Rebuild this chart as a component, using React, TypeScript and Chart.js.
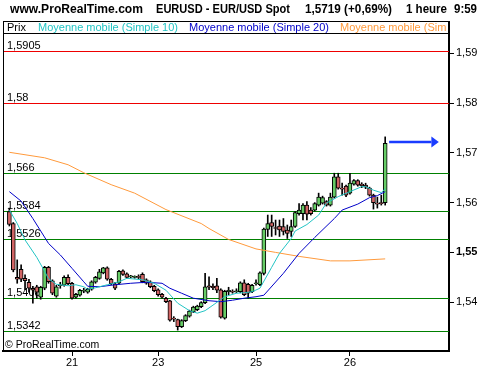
import React, { useEffect, useRef } from "react";
import { Chart, registerables } from "chart.js";

Chart.register(...registerables);

const FONT = '"Liberation Sans", Arial, sans-serif';

// Hourly candles (index 0 = first visible hour)
const openP = [
  1.5582, 1.5558, 1.5450, 1.5466, 1.5448, 1.5440, 1.5428, 1.5431, 1.5410, 1.5428,
  1.5470, 1.5443, 1.5412, 1.5433, 1.5434, 1.5450, 1.5438, 1.5410, 1.5414, 1.5422,
  1.5420, 1.5426, 1.5440, 1.5448, 1.5459, 1.5469, 1.5446, 1.5437, 1.5438, 1.5463,
  1.5457, 1.5451, 1.5450, 1.5452, 1.5456, 1.5445, 1.5441, 1.5432, 1.5425, 1.5416,
  1.5408, 1.5403, 1.5368, 1.5365, 1.5351, 1.5363, 1.5372, 1.5381, 1.5385, 1.5391,
  1.5399, 1.5433, 1.5432, 1.5433, 1.5425, 1.5368, 1.5421, 1.5422, 1.5421, 1.5421,
  1.5439, 1.5436, 1.5421, 1.5437, 1.5435, 1.5458, 1.5546, 1.5560, 1.5550, 1.5553,
  1.5552, 1.5545, 1.5542, 1.5552, 1.5578, 1.5578, 1.5595, 1.5585, 1.5585, 1.5595,
  1.5599, 1.5602, 1.5595, 1.5611, 1.5652, 1.5629, 1.5633, 1.5619, 1.5637, 1.5644,
  1.5637, 1.5635, 1.5629, 1.5615, 1.5598, 1.5600, 1.5600,
];
const highP = [
  1.5589, 1.5560, 1.5485, 1.5475, 1.5455, 1.5446, 1.5432, 1.5434, 1.5432, 1.5472,
  1.5472, 1.5445, 1.5434, 1.5440, 1.5453, 1.5455, 1.5440, 1.5418, 1.5426, 1.5428,
  1.5428, 1.5443, 1.5452, 1.5466, 1.5470, 1.5471, 1.5448, 1.5440, 1.5464, 1.5465,
  1.5459, 1.5454, 1.5453, 1.5455, 1.5459, 1.5447, 1.5443, 1.5434, 1.5427, 1.5418,
  1.5410, 1.5404, 1.5371, 1.5366, 1.5365, 1.5375, 1.5384, 1.5392, 1.5394, 1.5401,
  1.5458, 1.5451, 1.5437, 1.5448, 1.5427, 1.5424, 1.5430, 1.5425, 1.5427, 1.5441,
  1.5445, 1.5438, 1.5436, 1.5445, 1.5461, 1.5549, 1.5575, 1.5575, 1.5565, 1.5565,
  1.5568, 1.5555, 1.5565, 1.5582, 1.5598, 1.5598, 1.5602, 1.5590, 1.5600, 1.5619,
  1.5613, 1.5604, 1.5619, 1.5659, 1.5659, 1.5639, 1.5635, 1.5659, 1.5646, 1.5646,
  1.5640, 1.5639, 1.5631, 1.5617, 1.5611, 1.5615, 1.5732,
];
const lowP = [
  1.5553, 1.5461, 1.5438, 1.5441, 1.5425, 1.5420, 1.5398, 1.5408, 1.5406, 1.5425,
  1.5438, 1.5415, 1.5410, 1.5428, 1.5432, 1.5435, 1.5406, 1.5408, 1.5412, 1.5419,
  1.5418, 1.5424, 1.5438, 1.5446, 1.5457, 1.5444, 1.5435, 1.5425, 1.5436, 1.5454,
  1.5448, 1.5449, 1.5448, 1.5447, 1.5439, 1.5436, 1.5429, 1.5421, 1.5412, 1.5408,
  1.5399, 1.5362, 1.5361, 1.5344, 1.5349, 1.5361, 1.5370, 1.5379, 1.5383, 1.5389,
  1.5397, 1.5425, 1.5425, 1.5419, 1.5368, 1.5366, 1.5415, 1.5418, 1.5419, 1.5419,
  1.5413, 1.5408, 1.5419, 1.5434, 1.5433, 1.5455, 1.5532, 1.5532, 1.5535, 1.5532,
  1.5535, 1.5528, 1.5532, 1.5550, 1.5575, 1.5565, 1.5565, 1.5575, 1.5583, 1.5593,
  1.5597, 1.5593, 1.5593, 1.5609, 1.5627, 1.5615, 1.5612, 1.5617, 1.5635, 1.5633,
  1.5630, 1.5628, 1.5613, 1.5587, 1.5589, 1.5595, 1.5595,
];
const closeP = [
  1.5556, 1.5465, 1.5446, 1.5446, 1.5443, 1.5428, 1.5424, 1.5420, 1.5430, 1.5470,
  1.5441, 1.5418, 1.5431, 1.5435, 1.5450, 1.5437, 1.5408, 1.5416, 1.5424, 1.5424,
  1.5426, 1.5441, 1.5450, 1.5461, 1.5469, 1.5446, 1.5437, 1.5428, 1.5462, 1.5456,
  1.5450, 1.5452, 1.5452, 1.5450, 1.5441, 1.5438, 1.5431, 1.5423, 1.5415, 1.5410,
  1.5401, 1.5364, 1.5366, 1.5351, 1.5363, 1.5373, 1.5382, 1.5390, 1.5392, 1.5399,
  1.5431, 1.5430, 1.5429, 1.5424, 1.5370, 1.5422, 1.5424, 1.5420, 1.5423, 1.5439,
  1.5415, 1.5418, 1.5434, 1.5439, 1.5459, 1.5547, 1.5558, 1.5552, 1.5548, 1.5545,
  1.5542, 1.5538, 1.5552, 1.5580, 1.5585, 1.5595, 1.5577, 1.5578, 1.5598, 1.5611,
  1.5610, 1.5595, 1.5611, 1.5652, 1.5629, 1.5627, 1.5615, 1.5639, 1.5644, 1.5635,
  1.5634, 1.5631, 1.5615, 1.5600, 1.5597, 1.5598, 1.5719,
];

// Moving averages (candle index -> value)
const sma10Idx = [0, 2, 4, 7, 9, 10, 12, 15, 17, 19, 20, 22, 25, 28, 30, 34, 37, 40, 43, 46, 48, 50, 52, 55, 58, 60, 62, 64, 67, 69, 72, 73, 76, 79, 81, 84, 87, 90, 91, 93, 95, 96];
const sma10Val = [1.5585, 1.5558, 1.5525, 1.5490, 1.5462, 1.5447, 1.5436, 1.5433, 1.5435, 1.5431, 1.5426, 1.5429, 1.5435, 1.5441, 1.5448, 1.5445, 1.5438, 1.5424, 1.5398, 1.5383, 1.5378, 1.5383, 1.5394, 1.5411, 1.5418, 1.5419, 1.5421, 1.5428, 1.5470, 1.5498, 1.5528, 1.5543, 1.5556, 1.5575, 1.5599, 1.5612, 1.5622, 1.5632, 1.5632, 1.5625, 1.5620, 1.5628];
const sma20Idx = [0, 3, 6, 10, 13, 16, 19, 20, 23, 27, 31, 35, 39, 41, 44, 47, 51, 54, 57, 60, 63, 65, 70, 74, 78, 83, 85, 89, 92, 94, 96];
const sma20Val = [1.5622, 1.5603, 1.5568, 1.5518, 1.5495, 1.5468, 1.5441, 1.5432, 1.5431, 1.5435, 1.5438, 1.5440, 1.5438, 1.5428, 1.5418, 1.5408, 1.5403, 1.5401, 1.5404, 1.5408, 1.5411, 1.5414, 1.5458, 1.5498, 1.5530, 1.5568, 1.5585, 1.5597, 1.5610, 1.5614, 1.5622];
const smaLongIdx = [0, 9, 15, 19, 26, 32, 40, 49, 51, 56, 63, 68, 74, 82, 87, 96];
const smaLongVal = [1.5701, 1.5690, 1.5676, 1.5660, 1.5636, 1.5619, 1.5586, 1.5558, 1.5548, 1.5526, 1.5507, 1.5500, 1.5492, 1.5483, 1.5483, 1.5487];

// Axis ticks
const dayTickIdx = [16, 38, 63, 87];
const dayLabels = ["21", "23", "25", "26"];
const priceTicks = [1.54, 1.55, 1.56, 1.57, 1.58, 1.59];
const boldTick = 1.55;
const yMin = 1.5302;
const yMax = 1.59406;
const xMin = -1.63;
const xMax = 112.3;

// Horizontal price levels
const levelValues = [1.5905, 1.58, 1.566, 1.5584, 1.5526, 1.5408, 1.5342];
const levelLabels = ["1,5905", "1,58", "1,566", "1,5584", "1,5526", "1,5408", "1,5342"];
const levelColors = ["#ee0000", "#ee0000", "#008000", "#008000", "#008000", "#008000", "#008000"];

// Texts
const headerParts = ["www.ProRealTime.com", "EURUSD - EUR/USD Spot", "1,5719 (+0,69%)", "1 heure", "9:59"];
const headerX = [10, 156, 305, 406, 454];
const headerW = [133, 134, 87, 41, 23];
const legendLabels = ["Prix", "Moyenne mobile (Simple 10)", "Moyenne mobile (Simple 20)", "Moyenne mobile (Simple 100)"];
const legendColors = ["#000000", "#22c4c4", "#0000c8", "#ff9a3c"];
const legendX = [7, 38, 189, 340];
const copyright = "\u00a9 ProRealTime.com";

const UP = "#66cc66";
const DOWN = "#d06464";

export default function App() {
  const ref = useRef<HTMLCanvasElement>(null);

  useEffect(() => {
    document.body.style.margin = "0";
    const canvas = ref.current;
    if (!canvas) return;

    const overlay = {
      id: "overlay",
      beforeDatasetsDraw(chart: any) {
        const { ctx, chartArea: a, scales } = chart;
        const y = scales.y;
        ctx.save();
        ctx.beginPath();
        ctx.rect(a.left, a.top, a.right - a.left, a.bottom - a.top);
        ctx.clip();
        levelValues.forEach((v, k) => {
          const py = Math.round(y.getPixelForValue(v)) + 0.5;
          ctx.strokeStyle = levelColors[k];
          ctx.lineWidth = 1;
          ctx.beginPath();
          ctx.moveTo(a.left, py);
          ctx.lineTo(a.right, py);
          ctx.stroke();
          ctx.fillStyle = "#000";
          ctx.font = `11px ${FONT}`;
          ctx.textAlign = "left";
          ctx.textBaseline = "alphabetic";
          ctx.fillText(levelLabels[k], a.left + 4, py - 2.5);
        });
        ctx.restore();
      },
      afterDraw(chart: any) {
        const { ctx, chartArea: a, scales } = chart;
        const x = scales.x;
        const y = scales.y;
        ctx.save();
        // header, each part fitted to its measured width
        ctx.fillStyle = "#000";
        ctx.font = `bold 12px ${FONT}`;
        ctx.textAlign = "left";
        ctx.textBaseline = "alphabetic";
        headerParts.forEach((t, k) => {
          const w = ctx.measureText(t).width;
          ctx.save();
          ctx.translate(headerX[k], 13);
          ctx.scale(headerW[k] / w, 1);
          ctx.fillText(t, 0, 0);
          ctx.restore();
        });

        // legend box
        const boxTop = 21;
        ctx.fillStyle = "#fff";
        ctx.fillRect(a.left + 1, boxTop + 1, a.right - a.left - 2, a.top - boxTop - 1);
        ctx.strokeStyle = "#000";
        ctx.lineWidth = 1;
        ctx.beginPath();
        ctx.moveTo(a.left, boxTop + 0.5);
        ctx.lineTo(a.right, boxTop + 0.5);
        ctx.moveTo(a.left, a.top + 0.5);
        ctx.lineTo(a.right, a.top + 0.5);
        ctx.moveTo(a.left + 0.5, boxTop);
        ctx.lineTo(a.left + 0.5, a.bottom);
        ctx.stroke();
        ctx.fillStyle = "#000";
        ctx.fillRect(a.right - 1, boxTop, 2, a.top - boxTop + 1);

        ctx.save();
        ctx.beginPath();
        ctx.rect(a.left, boxTop, a.right - a.left - 2, a.top - boxTop);
        ctx.clip();
        ctx.font = `11px ${FONT}`;
        legendLabels.forEach((t, k) => {
          ctx.fillStyle = legendColors[k];
          ctx.fillText(t, legendX[k], 30.5);
        });
        ctx.restore();

        // copyright
        ctx.fillStyle = "#000";
        ctx.font = `10.5px ${FONT}`;
        ctx.fillText(copyright, a.left + 2, a.bottom - 3);

        // last price arrow
        const last = closeP.length - 1;
        const ay = Math.round(y.getPixelForValue(closeP[last])) - 1;
        const x0 = x.getPixelForValue(last + 1);
        const xh = x.getPixelForValue(last + 11.8);
        const xt = x.getPixelForValue(last + 13.7);
        ctx.strokeStyle = "#1a3cff";
        ctx.fillStyle = "#1a3cff";
        ctx.lineWidth = 2.5;
        ctx.beginPath();
        ctx.moveTo(x0, ay);
        ctx.lineTo(xh, ay);
        ctx.stroke();
        ctx.beginPath();
        ctx.moveTo(xh, ay - 5.5);
        ctx.lineTo(xt, ay);
        ctx.lineTo(xh, ay + 5.5);
        ctx.closePath();
        ctx.fill();
        ctx.restore();
      },
    };

    const wickData = lowP.map((l, i) => ({ x: i, y: [l, highP[i]] }));
    const bodyData = openP.map((o, i) => ({ x: i, y: [o, closeP[i]] }));
    const bodyColors = openP.map((o, i) => (closeP[i] >= o ? UP : DOWN));

    const chart = new Chart(canvas, {
      type: "bar",
      data: {
        datasets: [
          {
            type: "line",
            label: legendLabels[1],
            data: sma10Idx.map((xi, k) => ({ x: xi, y: sma10Val[k] })),
            borderColor: "#22c4c4",
            borderWidth: 1,
            pointRadius: 0,
            tension: 0,
            order: 0,
          } as any,
          {
            type: "line",
            label: legendLabels[2],
            data: sma20Idx.map((xi, k) => ({ x: xi, y: sma20Val[k] })),
            borderColor: "#0000c8",
            borderWidth: 1,
            pointRadius: 0,
            tension: 0,
            order: 0,
          } as any,
          {
            type: "line",
            label: legendLabels[3],
            data: smaLongIdx.map((xi, k) => ({ x: xi, y: smaLongVal[k] })),
            borderColor: "#ff9a3c",
            borderWidth: 1,
            pointRadius: 0,
            tension: 0,
            order: 0,
          } as any,
          {
            type: "bar",
            label: "body",
            data: bodyData,
            backgroundColor: bodyColors,
            borderColor: "#000",
            borderWidth: 1,
            borderSkipped: false,
            barThickness: 4,
            minBarLength: 1,
            grouped: false,
            order: 1,
          } as any,
          {
            type: "bar",
            label: legendLabels[0],
            data: wickData,
            backgroundColor: "#000",
            borderWidth: 0,
            barThickness: 1,
            grouped: false,
            order: 2,
          } as any,
        ],
      },
      options: {
        animation: false,
        responsive: false,
        devicePixelRatio: 1,
        layout: { padding: { left: 3, top: 33, right: 0, bottom: 0 } },
        plugins: { legend: { display: false }, tooltip: { enabled: false } },
        scales: {
          x: {
            type: "linear",
            min: xMin,
            max: xMax,
            offset: false,
            afterBuildTicks: (s: any) => {
              s.ticks = dayTickIdx.map((v) => ({ value: v }));
            },
            afterFit: (s: any) => {
              s.height = 19;
            },
            grid: { drawOnChartArea: false, offset: false, color: "#000", tickLength: 5 },
            border: { display: true, color: "#000", width: 2 },
            ticks: {
              autoSkip: false,
              maxRotation: 0,
              padding: 0,
              color: "#000",
              font: { family: FONT, size: 11 },
              callback: (v: any) => {
                const k = dayTickIdx.indexOf(Number(v));
                return k >= 0 ? dayLabels[k] : "";
              },
            },
          },
          y: {
            type: "linear",
            position: "right",
            min: yMin,
            max: yMax,
            afterBuildTicks: (s: any) => {
              s.ticks = priceTicks.map((v) => ({ value: v }));
            },
            afterFit: (s: any) => {
              s.width = 51;
            },
            grid: { drawOnChartArea: false, color: "#000", tickLength: 5 },
            border: { display: true, color: "#000", width: 2 },
            ticks: {
              padding: 2,
              color: "#000",
              font: (c: any) => ({
                family: FONT,
                size: 11,
                weight: c.tick && Math.abs(c.tick.value - boldTick) < 1e-9 ? "bold" : "normal",
              }),
              callback: (v: any) => Number(v).toFixed(2).replace(".", ","),
            },
          },
        },
      } as any,
      plugins: [overlay],
    });

    return () => chart.destroy();
  }, []);

  return (
    <div style={{ width: 500, height: 370, background: "#fff" }}>
      <canvas ref={ref} width={500} height={370} style={{ display: "block" }} />
    </div>
  );
}
